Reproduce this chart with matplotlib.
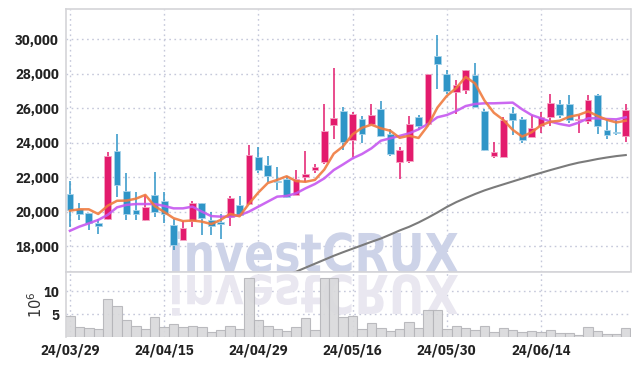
import numpy as np
import pandas as pd
import matplotlib
matplotlib.use('Agg')
import matplotlib.pyplot as plt
from matplotlib import font_manager
from matplotlib.textpath import TextPath
from matplotlib.patches import PathPatch
from matplotlib.font_manager import FontProperties
from matplotlib.transforms import Affine2D
from matplotlib.ticker import FuncFormatter

# trading day index -> tick labels
tick_pos = [0, 10, 20, 30, 40, 50]
tick_labels = ['24/03/29', '24/04/15', '24/04/29', '24/05/16', '24/05/30', '24/06/14']

opens = [21050, 20150, 19950, 19350, 19600, 23550, 21200, 20100, 19500, 20950,
         20650, 19250, 18350, 19450, 20500, 19550, 19400, 19700, 20400, 20450,
         23150, 22700, 21800, 21900, 20950, 22000, 22400, 22900, 25050, 25850,
         24150, 25400, 25100, 25950, 24500, 22900, 22950, 25500, 25100, 29050,
         28000, 26950, 27050, 27950, 25850, 23250, 23200, 25700, 25400, 24350,
         25000, 25500, 26250, 26250, 25300, 25250, 26750, 24750, 24600, 24400]
closes = [20100, 19850, 19350, 19200, 23250, 21550, 19900, 19900, 20300, 20000,
          19850, 18100, 19050, 20500, 19650, 19150, 19300, 20800, 19800, 23300,
          22400, 22050, 21700, 20850, 21900, 22200, 22600, 24700, 25450, 24050,
          25650, 24500, 25600, 24400, 23350, 23600, 25100, 24950, 28000, 28550,
          27000, 27350, 28200, 26100, 23600, 23450, 25300, 25300, 24150, 24850,
          25500, 26300, 25600, 25300, 25400, 26500, 25000, 24450, 24550, 25900]
highs = [21800, 20500, 19950, 19600, 23450, 24500, 22250, 21150, 20950, 22300,
         21150, 19600, 19450, 20600, 20500, 20000, 19850, 20900, 20900, 23900,
         23750, 23250, 22600, 22050, 22400, 23500, 22750, 26250, 28350, 26100,
         25800, 25550, 26250, 26450, 24800, 23750, 25550, 25600, 28000, 30250,
         28200, 27650, 28200, 28650, 25950, 24050, 25500, 26050, 25500, 25600,
         25800, 26850, 26500, 26800, 25600, 26800, 26850, 25400, 25300, 26250]
lows = [19100, 19550, 18950, 18700, 19550, 20850, 19550, 19550, 19450, 19700,
        19350, 17800, 18350, 19100, 18650, 18650, 18450, 19150, 19750, 20450,
        22250, 21750, 21250, 20800, 20950, 21750, 22250, 22800, 24200, 23600,
        23200, 24000, 25100, 24400, 23250, 21900, 22850, 24750, 25100, 27100,
        26850, 25650, 26850, 26100, 23500, 23100, 23150, 24450, 24000, 24350,
        24550, 24950, 25450, 25150, 24550, 25100, 24500, 24200, 24450, 24050]
# volume in millions
volume = [4.6, 2.2, 2.0, 1.8, 8.3, 6.7, 3.7, 2.4, 1.8, 4.4,
          2.2, 2.9, 2.2, 2.4, 2.2, 1.0, 1.6, 2.4, 1.8, 12.8,
          3.7, 2.3, 1.8, 1.4, 2.2, 4.1, 1.6, 12.8, 12.8, 4.4,
          4.5, 1.8, 3.1, 2.0, 1.3, 1.8, 3.3, 2.0, 5.8, 5.8,
          1.8, 2.4, 2.0, 1.5, 2.4, 1.0, 1.9, 1.6, 1.1, 1.4,
          1.1, 1.6, 0.9, 0.9, 0.4, 2.2, 1.4, 0.7, 0.6, 2.0]

# first 4 values of the 5-day average (earlier closes not shown)
ma5_head = [20067, 20144, 20144, 19873]
ma20 = [18900, 19140, 19330, 19530, 19820, 20260, 20400, 20450, 20450, 20450,
        20340, 20200, 20200, 20300, 20010, 19750, 19720, 19720, 19800, 20010,
        20300, 20590, 20880, 20920, 21070, 21360, 21610, 21940, 22420, 22750,
        23100, 23350, 23680, 24120, 24260, 24400, 24550, 24780, 25090, 25480,
        25610, 25840, 26130, 26250, 26290, 26290, 26310, 26330, 25940, 25610,
        25420, 25230, 25090, 24990, 25170, 25420, 25420, 25380, 25360, 25480]
ma120 = [np.nan] * 23 + [
    16330, 16530, 16760, 16990, 17220, 17450, 17660, 17860, 18060, 18260,
    18450, 18680, 18920, 19130, 19380, 19660, 19960, 20280, 20560, 20800,
    21030, 21240, 21420, 21590, 21760, 21930, 22100, 22260, 22420, 22570,
    22720, 22850, 22950, 23060, 23150, 23230, 23290]

UP = '#e31b6d'
DOWN = '#2f95c7'
GRID = '#c5c8da'
SPINE = '#d4d4d8'

names = {f.name for f in font_manager.fontManager.ttflist}
tick_font = 'IBM Plex Sans Condensed' if 'IBM Plex Sans Condensed' in names else 'DejaVu Sans'

W, H = 639, 366
fig = plt.figure(figsize=(W / 100, H / 100), dpi=100)
fig.patch.set_facecolor('white')

ax = fig.add_axes([66 / W, 94.5 / H, 564.5 / W, 262.5 / H])
ax2 = fig.add_axes([66 / W, 29 / H, 564.5 / W, 65.5 / H], sharex=ax)

x = np.arange(len(closes))
o = np.array(opens, float)
c = np.array(closes, float)
hi = np.array(highs, float)
lo = np.array(lows, float)
up = c >= o
cols = np.where(up, UP, DOWN)

# candles
ax.vlines(x, lo, hi, colors=cols, linewidth=1.1, zorder=3)
body = np.maximum(np.abs(c - o), 60)
ax.bar(x, body, bottom=np.minimum(o, c), width=0.72, color=cols,
       edgecolor=np.where(up, '#f4a6c4', '#a9d3ea'), linewidth=0.6, zorder=4)

# moving averages
ma5 = pd.Series(c).rolling(5).mean().values
ma5[:4] = ma5_head
ax.plot(x, ma120, color='#7b7b7b', linewidth=1.5, zorder=5)
ax.plot(x, ma20, color='#c658f0', linewidth=1.8, alpha=0.9, zorder=5)
ax.plot(x, ma5, color='#f07b3f', linewidth=1.8, alpha=0.9, zorder=6)

ax.set_xlim(-0.42, 59.5)
ax.set_ylim(16539, 31757)
ax.set_yticks([18000, 20000, 22000, 24000, 26000, 28000, 30000])
ax.yaxis.set_major_formatter(FuncFormatter(lambda v, p: f'{int(v):,}'))
ax.set_xticks(tick_pos)
ax.tick_params(axis='x', labelbottom=False, length=0)
ax.tick_params(axis='y', length=0, pad=5, labelsize=10.5, labelcolor='#222222')
ax.grid(True, linestyle=(0, (1.2, 2.5)), color=GRID, linewidth=1)
ax.set_axisbelow(True)
for s in ax.spines.values():
    s.set_color(SPINE)
    s.set_linewidth(1.2)

# volume
ax2.bar(x, volume, width=1.0, color='#d9d9db', edgecolor='#b5b5b9',
        linewidth=0.8, alpha=0.9, zorder=3)
ax2.set_ylim(0, 14.3)
ax2.set_yticks([5, 10])
ax2.set_xticks(tick_pos)
ax2.set_xticklabels(tick_labels)
ax2.tick_params(axis='x', length=0, pad=5, labelsize=10.5, labelcolor='#222222')
ax2.tick_params(axis='y', length=0, pad=5, labelsize=10.5, labelcolor='#222222')
ax2.grid(True, linestyle=(0, (1.2, 2.5)), color=GRID, linewidth=1)
ax2.set_axisbelow(True)
ax2.set_ylabel(r'$10^{6}$', fontsize=10.5, color='#333333', labelpad=-1)
for k, s in ax2.spines.items():
    s.set_color(SPINE)
    s.set_linewidth(1.2)
ax2.spines['bottom'].set_visible(False)
ax2.spines['right'].set_visible(False)

for lab in ax.get_yticklabels() + ax2.get_yticklabels() + ax2.get_xticklabels():
    lab.set_fontfamily(tick_font)
    lab.set_fontweight('bold')

# watermark and its reflection
fp = FontProperties(family='DejaVu Sans', weight='bold')
tp = TextPath((0, 0), 'investCRUX', size=1, prop=fp)
bb = tp.get_extents()
x0, x1 = 172, 458
sx = (x1 - x0) / bb.width
sy = 39 / 0.729
tr = (Affine2D().translate(-bb.x0, 0).scale(sx, sy).translate(x0, H - 272)
      .scale(1 / W, 1 / H) + fig.transFigure)
ax.add_patch(PathPatch(tp, transform=tr, facecolor='#cdd3e8', edgecolor='none',
                       zorder=1))
tr2 = (Affine2D().translate(-bb.x0, 0).scale(sx, -sy).translate(x0, H - 275)
       .scale(1 / W, 1 / H) + fig.transFigure)
ax2.add_patch(PathPatch(tp, transform=tr2, facecolor='#e9e7f0', edgecolor='none',
                        zorder=1))

fig.savefig('out.png', dpi=100)
